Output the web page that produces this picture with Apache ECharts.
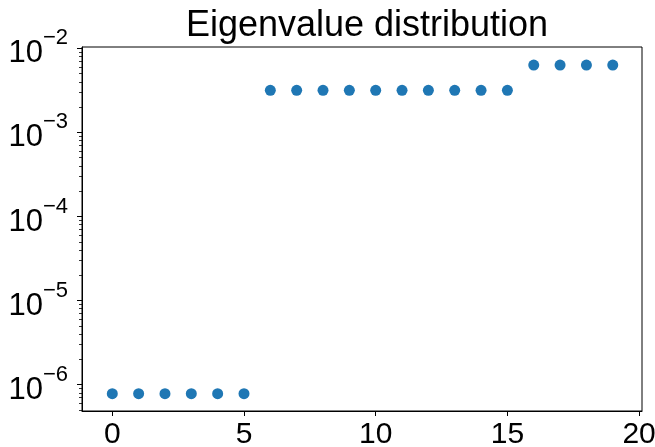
<!DOCTYPE html>
<html>
<head>
<meta charset="utf-8">
<style>
  html, body { margin: 0; padding: 0; background: #fff; }
  #chart { width: 655px; height: 447px; }
</style>
<script src="https://cdn.jsdelivr.net/npm/echarts@6/dist/echarts.min.js"></script>
</head>
<body>
<div id="chart"></div>
<script>
// Eigenvalue index and magnitude (sorted ascending)
const indices = [0, 1, 2, 3, 4, 5, 6, 7, 8, 9, 10, 11, 12, 13, 14, 15, 16, 17, 18, 19];
const eigenvalues = [
  7.8e-7, 7.8e-7, 7.8e-7, 7.8e-7, 7.8e-7, 7.8e-7,
  3.16e-3, 3.16e-3, 3.16e-3, 3.16e-3, 3.16e-3, 3.16e-3, 3.16e-3, 3.16e-3, 3.16e-3, 3.16e-3,
  6.32e-3, 6.32e-3, 6.32e-3, 6.32e-3
];
const xTicks = [0, 5, 10, 15, 20];
const yExponents = [-6, -5, -4, -3, -2];

const FONT = '"Liberation Sans", Arial, sans-serif';
const yMin = 4.86e-7, yMax = 1.036e-2;

const majorY = yExponents.map(e => Math.pow(10, e));
const minorY = [];
for (let e = -7; e <= -3; e++) {
  for (let m = 2; m <= 9; m++) {
    const v = m * Math.pow(10, e);
    if (v >= yMin && v <= yMax) minorY.push(v);
  }
}

// "10" with a raised exponent, e.g. 10^-3
function expLabel(v) {
  const e = Math.round(Math.log10(v));
  return '{b|10}{s|\u2212' + Math.abs(e) + '}';
}

const chart = echarts.init(document.getElementById('chart'), null, { renderer: 'canvas' });
chart.setOption({
  animation: false,
  title: {
    text: 'Eigenvalue distribution',
    left: 362,
    top: 3,
    textAlign: 'center',
    textStyle: { fontFamily: FONT, fontSize: 36, fontWeight: 'normal', color: '#000' }
  },
  grid: {
    left: 82, right: 13, top: 47, bottom: 36,
    outerBoundsMode: 'none',
    containLabel: false,
    show: true, borderColor: '#000', borderWidth: 1, backgroundColor: '#fff'
  },
  xAxis: {
    type: 'value',
    min: -1.15, max: 20.11,
    splitLine: { show: false },
    axisLine: { show: true, onZero: false, lineStyle: { color: '#000', width: 1 } },
    axisTick: { show: true, length: 5, customValues: xTicks, lineStyle: { color: '#000', width: 1 } },
    axisLabel: {
      customValues: xTicks, margin: 9,
      fontFamily: FONT, fontSize: 30, color: '#000'
    }
  },
  yAxis: [
    {
      type: 'log',
      min: yMin, max: yMax,
      splitLine: { show: false },
      axisLine: { show: true, onZero: false, lineStyle: { color: '#000', width: 1 } },
      axisTick: { show: true, length: 5, customValues: majorY, lineStyle: { color: '#000', width: 1 } },
      axisLabel: {
        customValues: majorY,
        margin: 14,
        formatter: expLabel,
        rich: {
          b: { fontFamily: FONT, fontSize: 31, color: '#000', lineHeight: 42, verticalAlign: 'bottom' },
          s: { fontFamily: FONT, fontSize: 22, color: '#000', lineHeight: 42, verticalAlign: 'top' }
        }
      }
    },
    {
      type: 'log',
      min: yMin, max: yMax,
      position: 'left',
      splitLine: { show: false },
      axisLine: { show: false, onZero: false },
      axisTick: { show: true, length: 3, customValues: minorY, lineStyle: { color: '#000', width: 0.8 } },
      axisLabel: { show: false }
    }
  ],
  series: [{
    type: 'scatter',
    yAxisIndex: 0,
    symbol: 'circle',
    symbolSize: 11,
    itemStyle: { color: '#1f77b4', opacity: 1 },
    data: indices.map((x, i) => [x, eigenvalues[i]])
  }]
});
</script>
</body>
</html>
